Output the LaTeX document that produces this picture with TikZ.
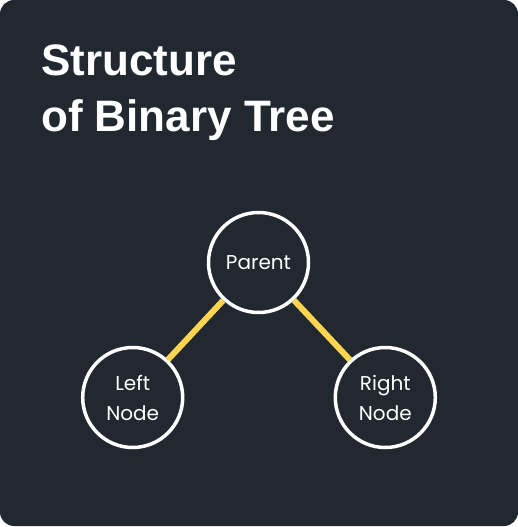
\documentclass[tikz,border=0pt]{standalone}
\usepackage{fontspec}
\setmainfont{Poppins}
\newfontfamily\titlefont{Liberation Sans}
\definecolor{bgdark}{HTML}{212830}
\definecolor{edgeyellow}{HTML}{FFD54F}
\tikzset{
  treenode/.style={circle, draw=white, line width=3.5pt, minimum size=100pt, inner sep=0pt,
    text=white, align=center, font=\fontsize{20}{30}\selectfont},
  treeedge/.style={draw=edgeyellow, line width=6pt},
  titletext/.style={anchor=base west, text=white, inner sep=0pt, font=\titlefont\bfseries\fontsize{44}{56}\selectfont}
}
\begin{document}
\begin{tikzpicture}[x=1pt,y=-1pt]
\useasboundingbox (0,0) rectangle (518,527);
\fill[bgdark, rounded corners=14pt] (0,0) rectangle (518,526);
\node[titletext] (t1) at (41,75) {Structure};
\node[titletext] (t2) at (41,131) {of Binary Tree};
\node[treenode] (p) at (258.5,262.5) {Parent};
\node[treenode] (l) at (132.7,397.5) {Left\\Node};
\node[treenode] (r) at (385.3,397.5) {Right\\Node};
\draw[treeedge] (p) -- (l);
\draw[treeedge] (p) -- (r);
\end{tikzpicture}
\end{document}
